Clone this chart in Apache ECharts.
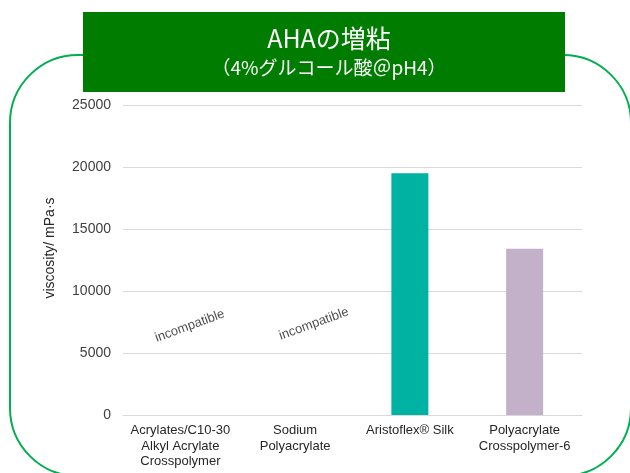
<!DOCTYPE html>
<html>
<head>
<meta charset="utf-8">
<script src="https://cdn.jsdelivr.net/npm/echarts@6/dist/echarts.min.js"></script>
<style>html,body{margin:0;padding:0;background:#fff;}#c{width:630px;height:473px;}</style>
</head>
<body>
<div id="c"></div>
<script>
const categories = ['Acrylates/C10-30\nAlkyl Acrylate\nCrosspolymer', 'Sodium\nPolyacrylate', 'Aristoflex® Silk', 'Polyacrylate\nCrosspolymer-6'];
const viscosity = ['-', '-', 19500, 13400];
const barColors = ['#00B2A2', '#00B2A2', '#00B2A2', '#C3B1C9'];
const noteCategories = [0, 1];
const noteValues = [6900, 6800];
const noteText = 'incompatible';
const yTicks = { min: 0, max: 25000, interval: 5000 };
const titleMain = 'AHAの増粘';
const titleSub = '（4%グルコール酸＠pH4）';

const chart = echarts.init(document.getElementById('c'));
const FONT = '"Liberation Sans", Arial, sans-serif';
chart.setOption({
  animation: false,
  backgroundColor: '#fff',
  graphic: [
    { type: 'rect', z: 0, shape: { x: 10, y: 55, width: 621, height: 421, r: 68 },
      style: { fill: 'none', stroke: '#00B050', lineWidth: 2 } },
    { type: 'rect', z: 1, shape: { x: 83, y: 12, width: 482, height: 80 },
      style: { fill: '#007D00' } }
  ],
  title: {
    text: titleMain,
    subtext: titleSub,
    left: 324, top: 21, textAlign: 'center',
    itemGap: 7,
    z: 10,
    textStyle: { color: '#fff', fontSize: 25, fontWeight: 'normal', fontFamily: '"Noto Sans CJK JP", sans-serif' },
    subtextStyle: { color: '#fff', fontSize: 19, fontFamily: '"Noto Sans CJK JP", sans-serif' }
  },
  grid: { left: 123, right: 48, top: 105, bottom: 58, containLabel: false },
  xAxis: {
    type: 'category',
    data: categories,
    axisLine: { lineStyle: { color: '#D9D9D9', width: 1 } },
    axisTick: { show: false },
    axisLabel: { color: '#262626', fontSize: 13, fontFamily: FONT, lineHeight: 15.5, margin: 8, interval: 0 }
  },
  yAxis: {
    type: 'value',
    min: yTicks.min, max: yTicks.max, interval: yTicks.interval,
    name: 'viscosity/ mPa·s',
    nameLocation: 'middle',
    nameGap: 66,
    nameTextStyle: { color: '#262626', fontSize: 14, fontFamily: FONT, padding: [0, 0, 0, 24] },
    axisLine: { show: false },
    axisTick: { show: false },
    splitLine: { lineStyle: { color: '#D9D9D9', width: 1 } },
    axisLabel: { color: '#404040', fontSize: 14, fontFamily: FONT, margin: 12, formatter: v => String(v) }
  },
  series: [
    {
      type: 'bar',
      barWidth: 37,
      data: viscosity.map((v, i) => ({ value: v, itemStyle: { color: barColors[i] } }))
    },
    {
      type: 'scatter',
      symbolSize: 0,
      silent: true,
      data: noteCategories.map((c, i) => ({ value: [c, noteValues[i]], label: { offset: [i === 0 ? 10 : 20, 0] } })),
      label: { show: true, position: 'inside', formatter: noteText, rotate: 20, color: '#1a1a1a', fontSize: 13, fontFamily: FONT }
    }
  ]
});
</script>
</body>
</html>
